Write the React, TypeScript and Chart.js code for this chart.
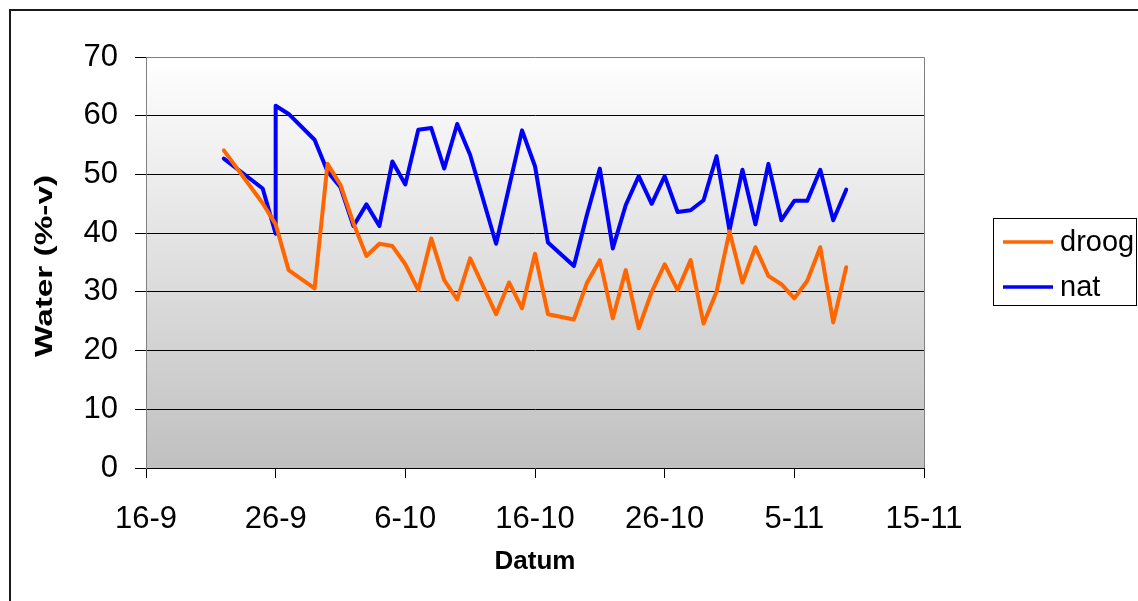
import React, { useEffect, useRef } from "react";
import { Chart, registerables } from "chart.js";

Chart.register(...registerables);

const xTickLabels = ["16-9", "26-9", "6-10", "16-10", "26-10", "5-11", "15-11"];

const droogDates = [
  "22-9", "25-9", "26-9", "27-9", "29-9", "30-9", "1-10", "2-10", "3-10", "4-10",
  "5-10", "6-10", "7-10", "8-10", "9-10", "10-10", "11-10", "13-10", "14-10", "15-10",
  "16-10", "17-10", "19-10", "20-10", "21-10", "22-10", "23-10", "24-10", "25-10", "26-10",
  "27-10", "28-10", "29-10", "30-10", "31-10", "1-11", "2-11", "3-11", "4-11", "5-11",
  "6-11", "7-11", "8-11", "9-11",
];
const droogValues = [
  54.1, 45.1, 41.5, 33.7, 30.6, 51.8, 48.2, 41.7, 36.1, 38.2,
  37.8, 34.7, 30.3, 39.1, 32.0, 28.7, 35.7, 26.2, 31.6, 27.2,
  36.5, 26.2, 25.3, 31.5, 35.4, 25.5, 33.7, 23.8, 30.0, 34.7,
  30.3, 35.4, 24.6, 30.0, 40.3, 31.6, 37.6, 32.7, 31.3, 28.9,
  31.9, 37.6, 24.8, 34.2,
];

const natDates = [
  "22-9", "25-9", "26-9", "26-9", "27-9", "29-9", "30-9", "1-10", "2-10", "3-10",
  "4-10", "5-10", "6-10", "7-10", "8-10", "9-10", "10-10", "11-10", "13-10", "15-10",
  "16-10", "17-10", "19-10", "20-10", "21-10", "22-10", "23-10", "24-10", "25-10", "26-10",
  "27-10", "28-10", "29-10", "30-10", "31-10", "1-11", "2-11", "3-11", "4-11", "5-11",
  "6-11", "7-11", "8-11", "9-11",
];
const natValues = [
  52.7, 47.6, 39.9, 61.7, 60.3, 55.9, 50.5, 47.8, 41.2, 44.9,
  41.2, 52.2, 48.3, 57.6, 57.9, 51.0, 58.6, 53.3, 38.2, 57.5,
  51.4, 38.4, 34.4, 43.1, 51.0, 37.4, 44.8, 49.7, 45.0, 49.7,
  43.6, 43.9, 45.6, 53.1, 40.5, 50.8, 41.5, 51.8, 42.2, 45.5,
  45.5, 50.8, 42.2, 47.4,
];

const seriesNames = ["droog", "nat"];
const seriesColors = ["#FF6600", "#0000FF"];
const yTitle = "Water (%-v)";
const xTitle = "Datum";

// days since 16 September
function dayOffset(label: string): number {
  const [d, m] = label.split("-").map(Number);
  if (m === 9) return d - 16;
  if (m === 10) return 14 + d;
  return 45 + d;
}

const FONT = "'Liberation Sans', Arial, sans-serif";

const frameAndLegend = {
  id: "frameAndLegend",
  beforeDraw(chart: any) {
    const { ctx, chartArea } = chart;
    const { left, top, right, bottom } = chartArea;
    ctx.save();
    const g = ctx.createLinearGradient(0, top, 0, bottom);
    g.addColorStop(0, "#ffffff");
    g.addColorStop(1, "#c0c0c0");
    ctx.fillStyle = g;
    ctx.fillRect(left, top, right - left, bottom - top);
    ctx.restore();
  },
  afterDraw(chart: any) {
    const { ctx, chartArea } = chart;
    const { left, top, right, bottom } = chartArea;
    ctx.save();
    // plot frame top/right
    ctx.strokeStyle = "#808080";
    ctx.lineWidth = 1;
    ctx.beginPath();
    ctx.moveTo(left, top + 0.5);
    ctx.lineTo(right + 0.5, top + 0.5);
    ctx.lineTo(right + 0.5, bottom);
    ctx.stroke();

    // outer chart border (only left and top are visible)
    ctx.fillStyle = "#1a1a1a";
    ctx.fillRect(9, 9, 2, 601);
    ctx.fillRect(9, 9, 1138, 2);

    // y axis title (stretched along its direction like the original)
    ctx.save();
    ctx.translate(46, 266);
    ctx.rotate(-Math.PI / 2);
    ctx.scale(1.45, 1);
    ctx.fillStyle = "#000";
    ctx.font = `bold 23px ${FONT}`;
    ctx.textAlign = "center";
    ctx.textBaseline = "middle";
    ctx.fillText(yTitle, 0, 0);
    ctx.restore();

    // legend
    ctx.strokeStyle = "#000";
    ctx.lineWidth = 1;
    ctx.strokeRect(993.5, 218.5, 143, 87);
    const ys = [242, 287];
    seriesNames.forEach((name, i) => {
      ctx.strokeStyle = seriesColors[i];
      ctx.lineWidth = 3.5;
      ctx.lineCap = "butt";
      ctx.beginPath();
      ctx.moveTo(1003, ys[i]);
      ctx.lineTo(1053, ys[i]);
      ctx.stroke();
      ctx.fillStyle = "#000";
      ctx.font = `29px ${FONT}`;
      ctx.textBaseline = "middle";
      ctx.textAlign = "left";
      ctx.fillText(name, 1060, ys[i] + 1);
    });
    ctx.restore();
  },
};

export default function App() {
  const ref = useRef<HTMLCanvasElement>(null);

  useEffect(() => {
    if (!ref.current) return;
    const mk = (dates: string[], vals: number[]) =>
      dates.map((d, i) => ({ x: dayOffset(d), y: vals[i] }));

    const chart = new Chart(ref.current, {
      type: "line",
      data: {
        datasets: [
          {
            label: seriesNames[0],
            data: mk(droogDates, droogValues),
            borderColor: seriesColors[0],
            backgroundColor: seriesColors[0],
            borderWidth: 4,
            pointRadius: 0,
            tension: 0,
            borderJoinStyle: "round",
            borderCapStyle: "round",
          },
          {
            label: seriesNames[1],
            data: mk(natDates, natValues),
            borderColor: seriesColors[1],
            backgroundColor: seriesColors[1],
            borderWidth: 4,
            pointRadius: 0,
            tension: 0,
            borderJoinStyle: "round",
            borderCapStyle: "round",
          },
        ],
      },
      options: {
        animation: false,
        responsive: false,
        devicePixelRatio: 1,
        parsing: false,
        layout: { padding: { left: 0, right: 214, top: 57, bottom: 0 } },
        plugins: {
          legend: { display: false },
          tooltip: { enabled: false },
        },
        scales: {
          x: {
            type: "linear",
            min: 0,
            max: 60,
            ticks: {
              stepSize: 10,
              autoSkip: false,
              maxRotation: 0,
              color: "#000",
              padding: 23,
              font: { family: FONT, size: 31 },
              callback: (_v: any, i: number) => xTickLabels[i],
            },
            grid: {
              drawOnChartArea: false,
              tickLength: 10,
              tickColor: "#000",
            },
            border: { color: "#000", width: 1 },
            title: {
              display: true,
              text: xTitle,
              color: "#000",
              font: { family: FONT, size: 26, weight: "bold" },
              padding: { top: 0, bottom: 24 },
            },
            afterFit: (s: any) => {
              s.height = 133;
            },
          },
          y: {
            min: 0,
            max: 70,
            ticks: {
              stepSize: 10,
              color: "#000",
              padding: 17,
              font: { family: FONT, size: 31 },
            },
            grid: {
              color: (c: any) =>
                c.tick && (c.tick.value === 0 || c.tick.value === 70) ? "rgba(0,0,0,0)" : "#000",
              tickColor: "#000",
              tickLength: 11,
              lineWidth: 1,
            },
            border: { color: "#808080", width: 1 },
            title: { display: false },
            afterFit: (s: any) => {
              s.width = 146;
            },
          },
        },
      } as any,
      plugins: [frameAndLegend],
    });
    return () => chart.destroy();
  }, []);

  return (
    <div style={{ position: "fixed", left: 0, top: 0, width: 1138, height: 601, background: "#fff" }}>
      <canvas ref={ref} width={1138} height={601} style={{ display: "block" }} />
    </div>
  );
}
